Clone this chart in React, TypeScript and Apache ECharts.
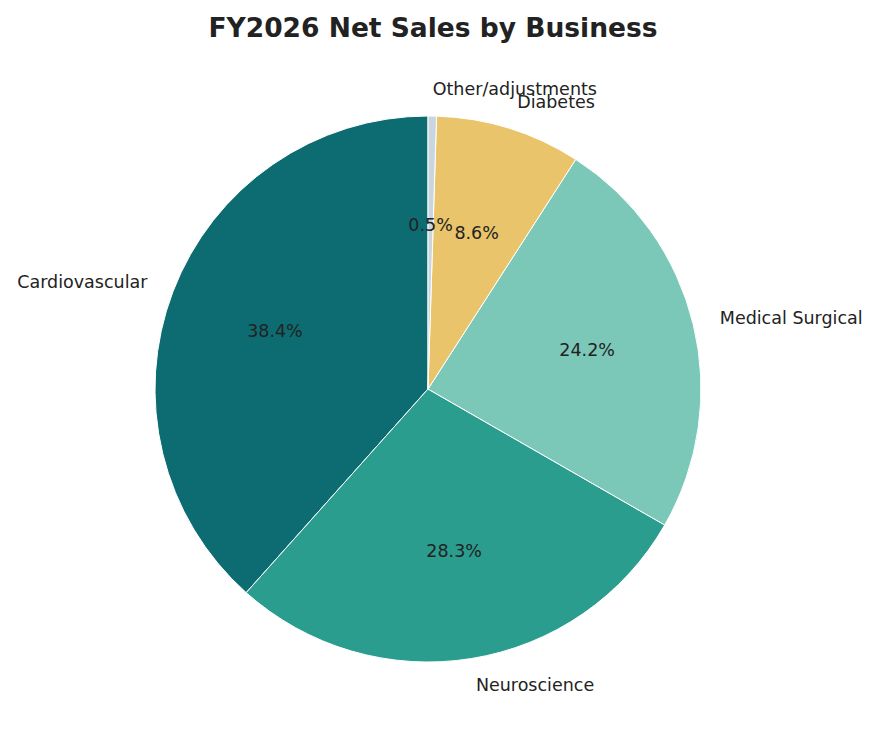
import React, { useEffect, useRef } from "react";
import * as echarts from "echarts";

const categories = ["Cardiovascular", "Neuroscience", "Medical Surgical", "Diabetes", "Other/adjustments"];
const shares = [38.4, 28.3, 24.2, 8.6, 0.5];
const colors = ["#0c6c71", "#2a9d8f", "#7bc8b9", "#e9c46a", "#c9d6df"];

const FONT = "'DejaVu Sans', sans-serif";
const R = 273;
const CX = 428;
const CY = 389;

export default function App() {
  const ref = useRef<HTMLDivElement>(null);
  useEffect(() => {
    if (!ref.current) return;
    const chart = echarts.init(ref.current, undefined, { renderer: "svg" });
    const data = categories.map((name, i) => ({
      name,
      value: shares[i],
      itemStyle: { color: colors[i] },
    }));
    chart.setOption({
      animation: false,
      backgroundColor: "#ffffff",
      title: {
        text: "FY2026 Net Sales by Business",
        left: CX,
        top: 9,
        textAlign: "center",
        textStyle: { fontFamily: FONT, fontSize: 26.5, fontWeight: "bold", color: "#222222" },
      },
      series: [
        {
          type: "pie",
          center: [CX, CY],
          radius: [0, R],
          startAngle: 90,
          clockwise: false,
          avoidLabelOverlap: false,
          silent: true,
          data,
          itemStyle: { borderColor: "#ffffff", borderWidth: 1 },
          label: {
            show: true,
            position: "outside",
            formatter: "{b}",
            fontFamily: FONT,
            fontSize: 17.5,
            color: "#222222",
            distanceToLabelLine: 0,
            bleedMargin: 0,
          },
          labelLayout: { hideOverlap: false },
          labelLine: { show: false, length: R * 0.1, length2: 0 },
          emphasis: { disabled: true },
        },
        {
          type: "pie",
          center: [CX, CY],
          radius: [R * 0.6 * 2 - R - 6, R],
          startAngle: 90,
          clockwise: false,
          avoidLabelOverlap: false,
          silent: true,
          data: data.map((d) => ({ ...d, itemStyle: { color: "rgba(0,0,0,0)" } })),
          itemStyle: { borderWidth: 0 },
          label: {
            show: true,
            position: "inside",
            formatter: (p: any) => `${Number(p.value).toFixed(1)}%`,
            fontFamily: FONT,
            fontSize: 17.5,
            color: "#222222",
          },
          labelLayout: { hideOverlap: false },
          labelLine: { show: false },
          emphasis: { disabled: true },
        },
      ],
    });
    return () => chart.dispose();
  }, []);
  return (
    <div
      ref={ref}
      style={{ position: "fixed", left: 0, top: 0, width: 880, height: 746 }}
    />
  );
}
